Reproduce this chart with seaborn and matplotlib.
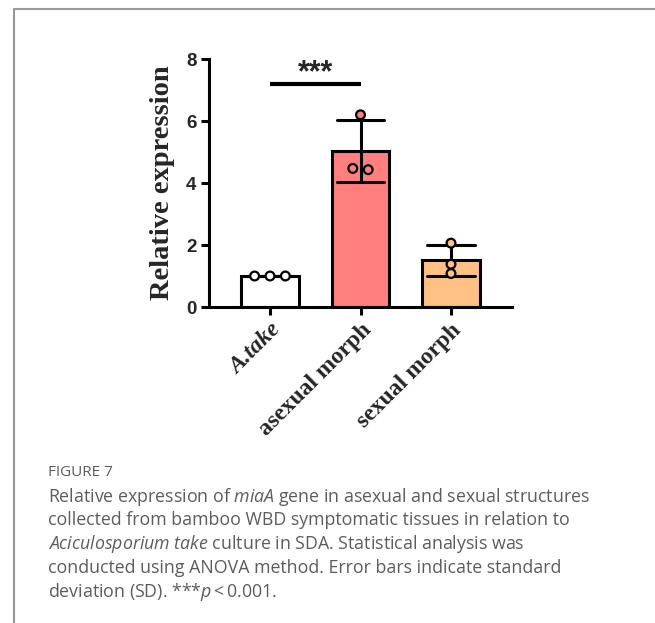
import matplotlib
matplotlib.use("Agg")
import matplotlib.pyplot as plt
import seaborn as sns
import pandas as pd
import numpy as np
from matplotlib.lines import Line2D

# ---- data ----
groups = ["A.take", "asexual morph", "sexual morph"]
rep_atake = [1.0, 1.0, 1.0]
rep_asexual = [6.2, 4.47, 4.43]
rep_sexual = [2.06, 1.38, 1.08]
y_ticks = [0, 2, 4, 6, 8]
sig_label = "***"

# ---- style ----
bar_colors = ["#FFFFFF", "#FF7F7F", "#FFC183"]
point_offsets = [[-0.17, 0.0, 0.17], [0.0, -0.085, 0.085], [0.0, 0.0, 0.0]]

sns.set_theme(style="ticks")
plt.rcParams["mathtext.fontset"] = "custom"
plt.rcParams["mathtext.rm"] = "Open Sans"
plt.rcParams["mathtext.it"] = "Open Sans:italic"

reps = [rep_atake, rep_asexual, rep_sexual]
df = pd.DataFrame({
    "group": np.repeat(groups, [len(r) for r in reps]),
    "value": np.concatenate(reps),
})
df["xpos"] = [i + off for i, r in enumerate(reps) for off in point_offsets[i][:len(r)]]

fig = plt.figure(figsize=(6.55, 6.23), dpi=100)
ax = fig.add_axes([209 / 655, 1 - 307 / 623, (512 - 209) / 655, (307 - 59) / 623])

sns.barplot(data=df, x="group", y="value", hue="group", palette=bar_colors,
            order=groups, hue_order=groups, estimator="mean", errorbar="sd",
            width=0.64, capsize=0.52, edgecolor="black", linewidth=2.2,
            saturation=1, err_kws={"color": "black", "linewidth": 2.2},
            legend=False, ax=ax)

sns.scatterplot(data=df, x="xpos", y="value", hue="group", palette=bar_colors,
                hue_order=groups, s=40, edgecolor="black", linewidth=1.6,
                legend=False, ax=ax, zorder=5)

ax.set_xlim(-0.674, 2.674)
ax.set_ylim(0, 8)
ax.set_yticks(y_ticks)
ax.set_yticklabels([str(t) for t in y_ticks], fontfamily="Liberation Sans",
                   fontweight="bold", fontsize=13.5)
ax.set_xticks(range(len(groups)))
ax.set_xticklabels(groups, rotation=45, ha="right", rotation_mode="anchor",
                   fontfamily="Liberation Serif", fontweight="bold", fontsize=17)
ax.get_xticklabels()[0].set_fontstyle("italic")
ax.set_xlabel("")
ax.set_ylabel("Relative expression", fontfamily="Liberation Serif",
              fontweight="bold", fontsize=20.5, labelpad=8)

for s in ["top", "right"]:
    ax.spines[s].set_visible(False)
for s in ["left", "bottom"]:
    ax.spines[s].set_linewidth(2.2)
    ax.spines[s].set_color("black")
ax.tick_params(axis="both", width=2.2, length=6, color="black", pad=3)

# significance
ax.plot([0, 1], [7.2, 7.2], color="black", lw=3, solid_capstyle="butt")
ax.text(0.5, 7.05, sig_label, ha="center", va="bottom", fontsize=22,
        fontfamily="Liberation Sans", fontweight="bold")

# frame
fig.add_artist(Line2D([14 / 655, 14 / 655], [0, 1 - 9 / 623], color="#999999", lw=1.5))
fig.add_artist(Line2D([14 / 655, 1], [1 - 9 / 623, 1 - 9 / 623], color="#999999", lw=1.5))

# caption
cap_color = "#5c5c5c"
x0 = 48 / 655
fig.text(x0, 1 - 473 / 623, "FIGURE 7", fontfamily="Open Sans", fontsize=11,
         color=cap_color, va="center", fontweight="medium")
lines = [
    r"Relative expression of $\it{miaA}$ gene in asexual and sexual structures",
    "collected from bamboo WBD symptomatic tissues in relation to",
    r"$\it{Aciculosporium}$ $\it{take}$ culture in SDA. Statistical analysis was",
    "conducted using ANOVA method. Error bars indicate standard",
    r"deviation (SD). ***$\it{p}$$\,$<$\,$0.001.",
]
ys = [497, 520, 544, 568, 592]
for t, y in zip(lines, ys):
    fig.text(x0, 1 - y / 623, t, fontfamily="Open Sans", fontsize=12.8,
             color=cap_color, va="center")

fig.savefig("out.png", dpi=100)
